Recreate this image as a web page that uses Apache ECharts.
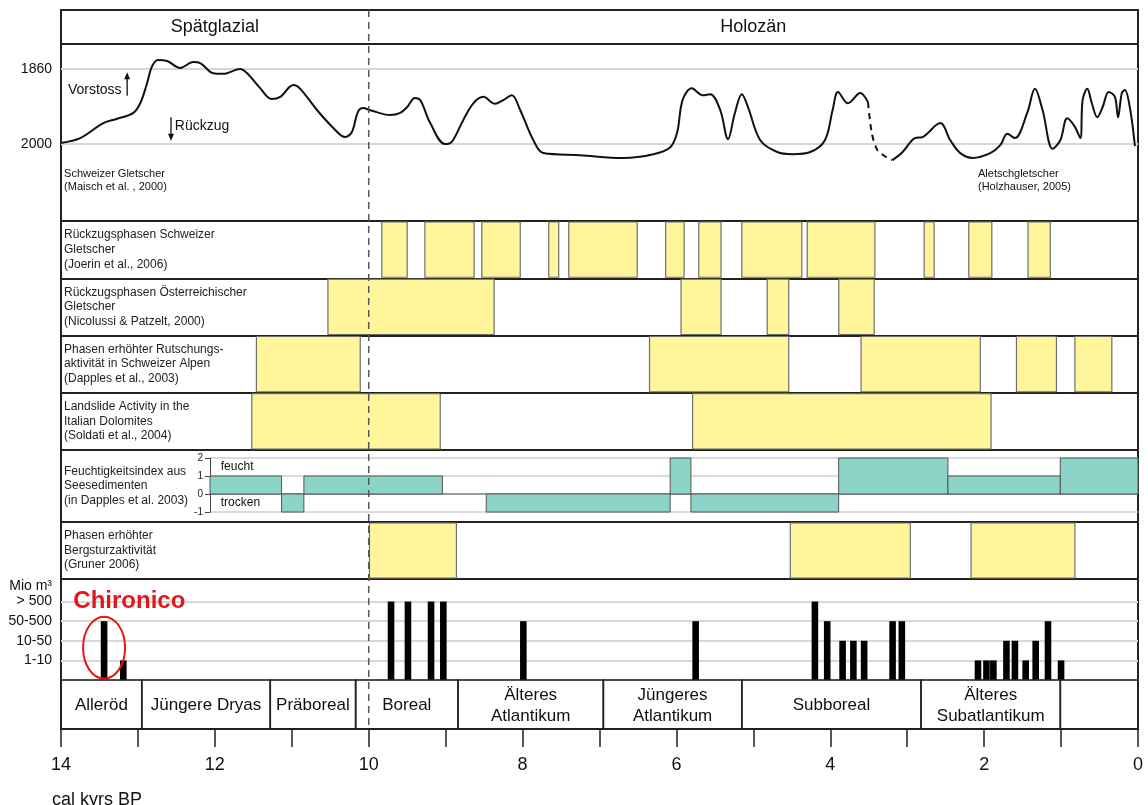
<!DOCTYPE html>
<html><head><meta charset="utf-8">
<script src="https://cdn.jsdelivr.net/npm/echarts@6/dist/echarts.min.js"></script>
<style>html,body{margin:0;padding:0;background:#fff}#c{width:1148px;height:805px}</style>
</head><body><div id="c"></div>
<script>
// ---------------- DATA ----------------
const epochs = [[14, 10, 'Spätglazial'], [10, 0, 'Holozän']];
const holoceneBoundary = [10];
const glacierTicks = [1860, 2000];
// glacier curve: [age kyr BP, relative extent]
const glacierSolidOld = [
 [14.0,1998],[13.75,1989],[13.45,1961],[13.27,1953],[13.06,1942],[12.97,1924],[12.88,1886],[12.82,1856],
 [12.74,1843],[12.62,1845],[12.45,1858],[12.28,1847],[12.19,1849],[12.02,1868],[11.89,1869],[11.67,1860],
 [11.58,1868],[11.41,1896],[11.26,1916],[11.15,1912],[10.98,1890],[10.89,1897],[10.67,1937],[10.46,1970],
 [10.31,1987],[10.22,1978],[10.14,1940],[10.07,1933],[9.98,1937],[9.72,1946],[9.59,1942],[9.50,1931],
 [9.40,1914],[9.33,1918],[9.20,1961],[9.01,2000],[8.92,1996],[8.77,1955],[8.64,1924],[8.51,1912],
 [8.36,1925],[8.25,1918],[8.14,1909],[8.03,1937],[7.86,1993],[7.73,2017],[7.25,2021],[6.69,2026],
 [6.30,2019],[6.08,2006],[5.99,1978],[5.92,1918],[5.80,1896],[5.66,1909],[5.56,1907],[5.43,1937],
 [5.33,1991],[5.24,1942],[5.15,1907],[5.07,1931],[4.91,1993],[4.69,2015],[4.49,2019],[4.26,2015],
 [4.07,1993],[3.97,1937],[3.90,1903],[3.77,1924],[3.61,1905],[3.51,1922]
];
const glacierDashed = [[3.51,1922],[3.46,1980],[3.39,2011],[3.30,2022],[3.19,2030]];
const glacierSolidYoung = [
 [3.19,2030],[3.06,2015],[2.90,1989],[2.80,1987],[2.57,1961],[2.44,1993],[2.31,2017],[2.15,2026],
 [1.92,2017],[1.79,2002],[1.70,1981],[1.60,1989],[1.44,1942],[1.34,1897],[1.24,1937],[1.11,2009],
 [1.01,1993],[0.92,1952],[0.82,1968],[0.75,1989],[0.72,1918],[0.66,1897],[0.60,1924],[0.53,1950],
 [0.46,1931],[0.38,1903],[0.30,1912],[0.26,1950],[0.21,1905],[0.17,1899],[0.10,1937],[0.04,2004]
];
const glacierNotes = [
 [13.91, 1899, 'Vorstoss'], [12.52, 1966, 'Rückzug']
];
const glacierSources = [
 [13.96, 2068, 'Schweizer Gletscher\n(Maisch et al. , 2000)'],
 [2.08, 2068, 'Aletschgletscher\n(Holzhauser, 2005)']
];
const glacierArrows = [[13.14, 1910, 1866], [12.57, 1950, 1994]];

const rowLabels = [
 'Rückzugsphasen Schweizer\nGletscher\n(Joerin et al., 2006)',
 'Rückzugsphasen Österreichischer\nGletscher\n(Nicolussi & Patzelt, 2000)',
 'Phasen erhöhter Rutschungs-\naktivität in Schweizer Alpen\n(Dapples et al., 2003)',
 'Landslide Activity in the\nItalian Dolomites\n(Soldati et al., 2004)'
];
const phasesSwiss = [[9.83,9.50],[9.27,8.63],[8.53,8.03],[7.66,7.53],[7.40,6.51],[6.14,5.90],[5.71,5.42],[5.15,4.37],[4.30,3.42],[2.78,2.65],[2.20,1.90],[1.43,1.14]];
const phasesAustria = [[10.53,8.37],[5.94,5.42],[4.82,4.54],[3.89,3.43]];
const phasesDapples = [[11.46,10.11],[6.35,4.54],[3.60,2.05],[1.58,1.06],[0.82,0.34]];
const phasesDolomites = [[11.52,9.07],[5.79,1.91]];

const moistureLabel = ['Feuchtigkeitsindex aus\nSeesedimenten\n(in Dapples et al. 2003)'];
const moistureSteps = [[12.06,11.13,1],[11.13,10.84,-1],[10.84,9.04,1],[8.47,6.08,-1],[6.08,5.81,2],[5.81,3.89,-1],[3.89,2.47,2],[2.47,1.01,1],[1.01,0,2]];
const moistureNotes = [[11.92, 1.5, 'feucht'], [11.92, -0.5, 'trocken']];

const bergsturzLabel = ['Phasen erhöhter\nBergsturzaktivität\n(Gruner 2006)'];
const phasesGruner = [[9.99,8.86],[4.52,2.96],[2.17,0.82]];

const volumeLevels = ['', '1-10', '10-50', '50-500', '> 500'];
const rockfalls = [[13.44,3],[13.19,1],[9.71,4],[9.49,4],[9.19,4],[9.03,4],[7.99,3],[5.75,3],[4.20,4],[4.04,3],[3.84,2],[3.70,2],[3.56,2],[3.19,3],[3.07,3],[2.08,1],[1.97,1],[1.88,1],[1.71,2],[1.60,2],[1.46,1],[1.33,2],[1.17,3],[1.00,1]];
const chironico = [[13.44, 13.84, 'Chironico']];

const chronoZones = [[14,12.95,'Alleröd'],[12.95,11.28,'Jüngere Dryas'],[11.28,10.17,'Präboreal'],[10.17,8.84,'Boreal'],[8.84,6.95,'Älteres\nAtlantikum'],[6.95,5.15,'Jüngeres\nAtlantikum'],[5.15,2.82,'Subboreal'],[2.82,1.01,'Älteres\nSubatlantikum'],[1.01,0,'']];
const tickLabels = ['14','12','10','8','6','4','2','0'];

// ---------------- CHART ----------------
const FONT = "'Liberation Sans', Arial, Helvetica, sans-serif";
const YELLOW = '#FFF59B', TEAL = '#8DD4C8', FRAME = '#222';
const L = 61, R = 10;
function frame(top, height, extra) {
  return Object.assign({left: L, right: R, top: top, height: height, show: true, borderColor: FRAME, borderWidth: 2, backgroundColor: 'transparent'}, extra || {});
}
const grids = [
  frame(10, 34),            // 0 header
  frame(44, 177),           // 1 glacier frame
  frame(69, 75, {show:false}), // 2 glacier data
  frame(221, 229),          // 3 four rows
  frame(450, 72),           // 4 moisture frame
  frame(458, 54, {left: 210, show:false}), // 5 moisture data
  frame(522, 57),           // 6 bergsturz
  frame(579, 101),          // 7 volume frame
  frame(601.6, 78.4, {show:false}), // 8 volume data
  frame(680, 49),           // 9 chrono
  frame(10, 719, {show:false}) // 10 overlay
];
const xAxes = grids.map((g, i) => ({gridIndex: i, type: 'value', min: 0, max: 14, inverse: true, show: false}));
xAxes[5] = {gridIndex: 5, type: 'value', min: 0, max: 12.06, inverse: true, show: false};
xAxes[9] = {gridIndex: 9, type: 'value', min: 0, max: 14, interval: 1, inverse: true, position: 'bottom',
  axisLine: {show: true, onZero: false, lineStyle: {color: FRAME, width: 2}},
  axisTick: {show: true, length: 18, lineStyle: {color: FRAME, width: 1.5}},
  axisLabel: {fontSize: 18, color: '#111', margin: 27, fontFamily: FONT, showMinLabel: true, showMaxLabel: true,
    formatter: v => tickLabels.includes(String(v)) ? String(v) : ''},
  splitLine: {show: false}};
const yAxes = grids.map((g, i) => ({gridIndex: i, type: 'value', min: 0, max: 1, show: false}));
yAxes[2] = {gridIndex: 2, type: 'value', position: 'left', min: glacierTicks[0], max: glacierTicks[1], interval: glacierTicks[1] - glacierTicks[0], inverse: true,
  axisLine: {show: false, onZero: false}, axisTick: {show: false},
  axisLabel: {fontSize: 14, color: '#111', margin: 9, fontFamily: FONT, formatter: v => String(v)},
  splitLine: {show: true, lineStyle: {color: '#d6d6d6', width: 2}}};
const catLabel = {inside: true, margin: 3, fontSize: 12, lineHeight: 14.6, color: '#222', fontFamily: FONT, align: 'left'};
yAxes[3] = {gridIndex: 3, type: 'category', position: 'left', data: rowLabels, inverse: true,
  axisLine: {show: false, onZero: false}, axisTick: {show: false}, axisLabel: catLabel,
  splitLine: {show: true, lineStyle: {color: FRAME, width: 2}}};
yAxes[4] = {gridIndex: 4, type: 'category', position: 'left', data: moistureLabel, axisLine: {show: false, onZero: false}, axisTick: {show: false}, axisLabel: catLabel, splitLine: {show: false}};
yAxes[5] = {gridIndex: 5, type: 'value', position: 'left', min: -1, max: 2, interval: 1,
  axisLine: {show: true, onZero: false, lineStyle: {color: '#444', width: 1}},
  axisTick: {show: true, length: 5, lineStyle: {color: '#444'}},
  axisLabel: {fontSize: 10, color: '#222', margin: 7, fontFamily: FONT},
  splitLine: {show: true, lineStyle: {color: ['#cfcfcf', '#777', '#cfcfcf', '#cfcfcf'], width: 1.5}}};
yAxes[6] = {gridIndex: 6, type: 'category', position: 'left', data: bergsturzLabel, axisLine: {show: false, onZero: false}, axisTick: {show: false}, axisLabel: catLabel, splitLine: {show: false}};
yAxes[8] = {gridIndex: 8, type: 'value', position: 'left', min: 0, max: volumeLevels.length - 1, interval: 1,
  axisLine: {show: false, onZero: false}, axisTick: {show: false},
  axisLabel: {fontSize: 14, color: '#111', margin: 9, fontFamily: FONT, formatter: v => volumeLevels[v] || ''},
  splitLine: {show: true, lineStyle: {color: '#d8d8d8', width: 2}},
  name: 'Mio m³', nameLocation: 'end', nameGap: 8,
  nameTextStyle: {fontSize: 14, color: '#111', align: 'right', padding: [0, 9, 0, 0], fontFamily: FONT}};

function boxSeries(xi, data) {
  return {type: 'custom', xAxisIndex: xi, yAxisIndex: xi, data: data, encode: {x: [0, 1]},
    renderItem: (params, api) => {
      const d = data[params.dataIndex];
      const p0 = api.coord([d[0], d[2]]), p1 = api.coord([d[1], d[2]]);
      const h = api.size([0, 1])[1];
      return {type: 'rect', shape: {x: p0[0], y: p0[1] - h / 2 + 1, width: p1[0] - p0[0], height: h - 2},
        style: {fill: YELLOW, stroke: '#6f6f6f', lineWidth: 1.2}};
    }};
}
const rowData = [].concat(
  phasesSwiss.map(p => [p[0], p[1], 0]),
  phasesAustria.map(p => [p[0], p[1], 1]),
  phasesDapples.map(p => [p[0], p[1], 2]),
  phasesDolomites.map(p => [p[0], p[1], 3]));
const grunerData = phasesGruner.map(p => [p[0], p[1], 0]);

function textSeries(xi, data, font, align) {
  return {type: 'custom', xAxisIndex: xi, yAxisIndex: xi, data: data.map(d => [d[0], d[1]]), clip: false,
    renderItem: (params, api) => {
      const d = data[params.dataIndex];
      const p = api.coord([d[0], d[1]]);
      return {type: 'text', x: p[0], y: p[1], style: Object.assign({text: d[2], align: align || 'left', verticalAlign: 'middle', fill: '#111', fontFamily: FONT}, font)};
    }};
}

const series = [
  // header
  {type: 'custom', xAxisIndex: 0, yAxisIndex: 0, data: epochs.map(e => [e[0], e[1]]),
    renderItem: (params, api) => {
      const e = epochs[params.dataIndex];
      const p = api.coord([(e[0] + e[1]) / 2, 0.5]);
      return {type: 'text', x: p[0], y: p[1], style: {text: e[2], align: 'center', verticalAlign: 'middle', fontSize: 18, fill: '#111', fontFamily: FONT}};
    }},
  // glacier curve
  {type: 'line', xAxisIndex: 2, yAxisIndex: 2, data: glacierSolidOld, showSymbol: false, smooth: 0.35, clip: false,
    lineStyle: {color: '#111', width: 2}, silent: true},
  {type: 'line', xAxisIndex: 2, yAxisIndex: 2, data: glacierDashed, showSymbol: false, smooth: 0.3, clip: false,
    lineStyle: {color: '#111', width: 2, type: [6, 5]}, silent: true},
  {type: 'line', xAxisIndex: 2, yAxisIndex: 2, data: glacierSolidYoung, showSymbol: false, smooth: 0.35, clip: false,
    lineStyle: {color: '#111', width: 2}, silent: true},
  textSeries(2, glacierNotes, {fontSize: 14}),
  textSeries(2, glacierSources, {fontSize: 11, lineHeight: 13.5}),
  {type: 'custom', xAxisIndex: 2, yAxisIndex: 2, data: glacierArrows.map(a => [a[0], a[1]]), clip: false,
    renderItem: (params, api) => {
      const a = glacierArrows[params.dataIndex];
      const p0 = api.coord([a[0], a[1]]), p1 = api.coord([a[0], a[2]]);
      const dir = p1[1] > p0[1] ? 1 : -1;
      return {type: 'group', children: [
        {type: 'line', shape: {x1: p0[0], y1: p0[1], x2: p1[0], y2: p1[1] - dir * 5}, style: {stroke: '#111', lineWidth: 1.3}},
        {type: 'polygon', shape: {points: [[p1[0], p1[1]], [p1[0] - 3, p1[1] - dir * 7], [p1[0] + 3, p1[1] - dir * 7]]}, style: {fill: '#111'}}
      ]};
    }},
  // phase rows
  boxSeries(3, rowData),
  boxSeries(6, grunerData),
  // moisture
  {type: 'custom', xAxisIndex: 5, yAxisIndex: 5, data: moistureSteps,
    renderItem: (params, api) => {
      const d = moistureSteps[params.dataIndex];
      const p0 = api.coord([d[0], 0]), p1 = api.coord([d[1], d[2]]);
      return {type: 'rect', shape: {x: p0[0], y: Math.min(p0[1], p1[1]), width: p1[0] - p0[0], height: Math.abs(p1[1] - p0[1])},
        style: {fill: TEAL, stroke: '#555', lineWidth: 1}};
    }},
  textSeries(5, moistureNotes, {fontSize: 12}),
  // rockfall volumes
  {type: 'custom', xAxisIndex: 8, yAxisIndex: 8, data: rockfalls,
    renderItem: (params, api) => {
      const d = rockfalls[params.dataIndex];
      const p0 = api.coord([d[0], 0]), p1 = api.coord([d[0], d[1]]);
      return {type: 'rect', shape: {x: p0[0] - 3.3, y: p1[1], width: 6.6, height: p0[1] - p1[1]}, style: {fill: '#000'}};
    }},
  {type: 'custom', xAxisIndex: 8, yAxisIndex: 8, data: chironico.map(c => [c[0], 3]), clip: false, z: 5,
    renderItem: (params, api) => {
      const c = chironico[params.dataIndex];
      const pe = api.coord([c[0], 1.65]);
      const pt = api.coord([c[1], 4]);
      return {type: 'group', children: [
        {type: 'ellipse', shape: {cx: pe[0], cy: pe[1], rx: 21, ry: 31}, style: {fill: 'none', stroke: '#E8141C', lineWidth: 2}},
        {type: 'text', x: pt[0], y: pt[1], style: {text: c[2], align: 'left', verticalAlign: 'middle', fontSize: 24, fontWeight: 'bold', fill: '#E8141C', fontFamily: FONT}}
      ]};
    }},
  // chronozones
  {type: 'custom', xAxisIndex: 9, yAxisIndex: 9, data: chronoZones.map(z => [z[0], z[1]]),
    renderItem: (params, api) => {
      const z = chronoZones[params.dataIndex];
      const p0 = api.coord([z[0], 1]), p1 = api.coord([z[1], 0]);
      const c = api.coord([(z[0] + z[1]) / 2, 0.5]);
      return {type: 'group', children: [
        {type: 'rect', shape: {x: p0[0], y: p0[1], width: p1[0] - p0[0], height: p1[1] - p0[1]}, style: {fill: 'none', stroke: FRAME, lineWidth: 1.6}},
        {type: 'text', x: c[0], y: c[1] + 1, style: {text: z[2], align: 'center', verticalAlign: 'middle', fontSize: 17, lineHeight: 21, fill: '#111', fontFamily: FONT}}
      ]};
    }},
  // Holocene boundary dashed line
  {type: 'custom', xAxisIndex: 10, yAxisIndex: 10, data: holoceneBoundary.map(b => [b, 0]), z: 10,
    renderItem: (params, api) => {
      const b = holoceneBoundary[params.dataIndex];
      const p0 = api.coord([b, 1]), p1 = api.coord([b, 0]);
      return {type: 'line', shape: {x1: p0[0], y1: p0[1], x2: p1[0], y2: p1[1]}, style: {stroke: '#555', lineWidth: 1.5, lineDash: [7, 5]}};
    }}
];

const chart = echarts.init(document.getElementById('c'), null, {renderer: 'canvas'});
chart.setOption({
  animation: false,
  backgroundColor: '#fff',
  textStyle: {fontFamily: FONT},
  title: {text: 'cal kyrs BP', left: 47, top: 786, textStyle: {fontSize: 18, fontWeight: 'normal', color: '#111', fontFamily: FONT}},
  grid: grids, xAxis: xAxes, yAxis: yAxes, series: series
});
</script></body></html>
